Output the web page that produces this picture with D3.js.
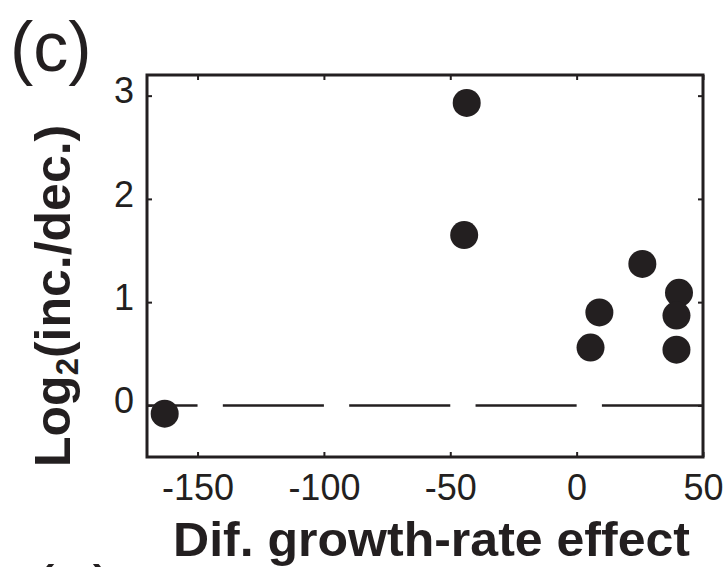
<!DOCTYPE html>
<html>
<head>
<meta charset="utf-8">
<script src="https://cdn.jsdelivr.net/npm/d3@7"></script>
<style>
  body { margin: 0; background: #fff; }
  svg { display: block; overflow: hidden; }
  text { font-family: "Liberation Sans", Arial, Helvetica, sans-serif; fill: #231f20; }
</style>
</head>
<body>
<div id="chart"></div>
<script>
// values
var growthEffect = [-163, -43.5, -44.5, 5.5, 9, 26, 40.5, 39.5, 39.5];
var log2Ratio = [-0.08, 2.93, 1.65, 0.56, 0.9, 1.37, 1.09, 0.87, 0.54];
var xTicks = [-150, -100, -50, 0, 50];
var yTicks = [0, 1, 2, 3];

var width = 727, height = 567;
var margin = {left: 147, right: 24, top: 75, bottom: 110};
var ink = "#231f20";

var svg = d3.select("#chart").append("svg").attr("width", width).attr("height", height);

var xScale = d3.scaleLinear()
    .domain([-170, 50])
    .range([margin.left, width - margin.right]);

var yScale = d3.scaleLinear()
    .domain([-0.5, 3.2])
    .range([height - margin.bottom, margin.top]);

var y0 = height - margin.bottom, x1 = width - margin.right;
var plain = function(d) { return String(d); };   // hyphen minus, no decimals

// axes, ticks pointing inward
var axisx = d3.axisBottom(xScale).tickValues(xTicks).tickFormat(plain).tickSizeInner(-5).tickSizeOuter(0).tickPadding(17);
var axisy = d3.axisLeft(yScale).tickValues(yTicks).tickFormat(plain).tickSizeInner(-5).tickSizeOuter(0).tickPadding(13);
var axisTop = d3.axisTop(xScale).tickValues(xTicks).tickSizeInner(-5).tickSizeOuter(0).tickFormat("");
var axisRight = d3.axisRight(yScale).tickValues(yTicks).tickSizeInner(-5).tickSizeOuter(0).tickFormat("");

function styleAxis(g) {
    g.select(".domain").remove();
    g.selectAll(".tick line").attr("stroke", ink).attr("stroke-width", 2);
    g.selectAll(".tick text").attr("font-size", "36px").attr("fill", ink)
        .attr("font-family", "'Liberation Sans', Arial, sans-serif");
}

svg.append("g").attr("transform", "translate(0," + y0 + ")").call(axisx).call(styleAxis);
svg.append("g").attr("transform", "translate(" + margin.left + ",0)").call(axisy).call(styleAxis)
    .selectAll(".tick text").attr("dy", "0.2em");
svg.append("g").attr("transform", "translate(0," + margin.top + ")").call(axisTop).call(styleAxis);
svg.append("g").attr("transform", "translate(" + x1 + ",0)").call(axisRight).call(styleAxis);

// frame
svg.append("rect")
    .attr("x", margin.left).attr("y", margin.top)
    .attr("width", x1 - margin.left).attr("height", y0 - margin.top)
    .attr("fill", "none").attr("stroke", ink).attr("stroke-width", 3);

// dashed zero line (dash 40, gap 10 in data units)
var unit = xScale(1) - xScale(0);
svg.append("line")
    .attr("x1", xScale(-170)).attr("x2", xScale(50))
    .attr("y1", yScale(0)).attr("y2", yScale(0))
    .attr("stroke", ink).attr("stroke-width", 2.5)
    .attr("stroke-dasharray", (40 * unit) + "," + (10 * unit))
    .attr("stroke-dashoffset", 20 * unit);

// points
svg.append("g")
    .selectAll("circle")
    .data(growthEffect)
    .enter()
    .append("circle")
    .attr("cx", function(d) { return xScale(d); })
    .attr("cy", function(d, i) { return yScale(log2Ratio[i]); })
    .attr("r", 14)
    .attr("fill", ink);

// axis titles
svg.append("text")
    .attr("x", 173).attr("y", 556)
    .attr("font-size", "48px").attr("font-weight", "bold")
    .attr("textLength", 517).attr("lengthAdjust", "spacingAndGlyphs")
    .text("Dif. growth-rate effect");

var ylab = svg.append("text")
    .attr("transform", "translate(70,467) rotate(-90)")
    .attr("font-size", "50px").attr("font-weight", "bold");
ylab.append("tspan").text("Log");
ylab.append("tspan").attr("font-size", "31px").attr("dy", 8).text("2");
ylab.append("tspan").attr("dy", -8).text("(inc./dec.)");

// panel labels
svg.append("text").attr("x", 10).attr("y", 71).attr("font-size", "70px").text("(c)");
svg.append("text").attr("x", 32).attr("y", 614).attr("font-size", "68px").text("(e)");
</script>
</body>
</html>
